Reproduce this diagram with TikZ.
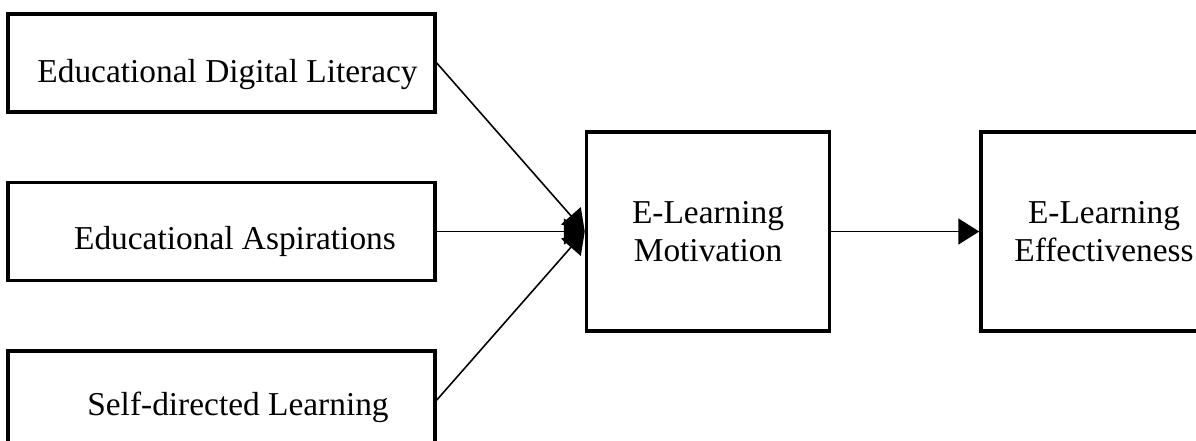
\documentclass[tikz,border=0pt]{standalone}
\usepackage{fontspec}
\setmainfont{Liberation Serif}
\usetikzlibrary{positioning, arrows.meta}

% move a label inside its box without changing the box size
\newcommand{\nudge}[3]{\hspace*{#1}\raisebox{#2}[\height][\depth]{#3}\hspace*{-#1}}

\begin{document}
\begin{tikzpicture}[
    node distance=1.34cm and 2.96cm,
    box/.style={rectangle, draw=black, line width=2pt, minimum width=8.54cm, minimum height=1.96cm, text centered, font=\fontsize{19}{21.5}\selectfont},
    bigbox/.style={box, minimum width=4.86cm, minimum height=3.98cm, align=center},
    arrow/.style={line width=0.9pt, -{Triangle[length=0.42cm, width=0.52cm]}}
]
    \useasboundingbox (0,0) rectangle (23.92,-8.8);
    \clip (0,0) rectangle (23.92,-8.8);

    \node (literacy) [box] at (4.43,-1.26) {\nudge{0.12cm}{-0.24cm}{Educational Digital Literacy}};
    \node (aspire) [box, below=of literacy] {\nudge{0.27cm}{-0.2cm}{Educational Aspirations}};
    \node (selfdir) [box, below=of aspire] {\nudge{0.33cm}{-0.14cm}{Self-directed Learning}};
    \node (motiv) [bigbox, right=of aspire] {E-Learning\\Motivation};
    \node (effect) [bigbox, right=of motiv, minimum width=4.92cm] {E-Learning\\Effectiveness};

    \draw [arrow] (literacy.east) -- (motiv.west);
    \draw [arrow] (aspire) -- (motiv);
    \draw [arrow] (selfdir.east) -- (motiv.west);
    \draw [arrow] (motiv) -- (effect);
\end{tikzpicture}
\end{document}
